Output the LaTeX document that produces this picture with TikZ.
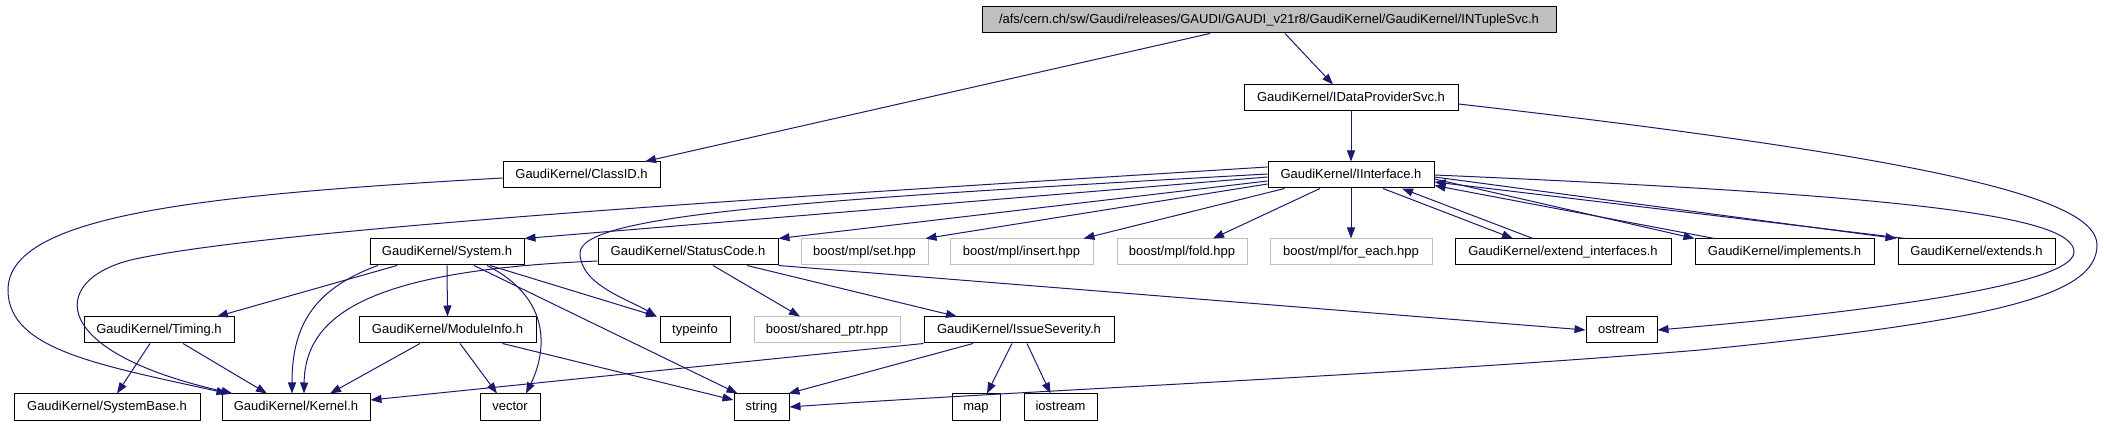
\documentclass[tikz,border=0pt]{standalone}
\usepackage{fontspec}
\setmainfont{Liberation Sans}
\usetikzlibrary{arrows.meta}
\definecolor{edgeblue}{HTML}{191970}
\definecolor{boxgray}{HTML}{BFBFBF}
\begin{document}
\begin{tikzpicture}[x=1pt,y=-1pt,line cap=butt,line join=miter,>={Stealth[length=11pt,width=8pt,inset=0pt]},font=\fontsize{13}{15}\selectfont]
	\tikzset{hbox/.style={draw=black,line width=1pt,fill=white,inner sep=0pt,minimum height=26,text height=9.5pt,text depth=2.6pt},
		extbox/.style={hbox,draw=boxgray},
		topbox/.style={hbox,fill=boxgray},
		dep/.style={->,draw=edgeblue,line width=1pt}}
	\useasboundingbox (0,0) rectangle (2104,427);
	% rows of headers
	\node[topbox,minimum width=574] (ntuple) at (1269,20) {/afs/cern.ch/sw/Gaudi/releases/GAUDI/GAUDI\_v21r8/GaudiKernel/GaudiKernel/INTupleSvc.h};
	\node[hbox,minimum width=214] (dataprov) at (1351,98) {GaudiKernel/IDataProviderSvc.h};
	\node[hbox,minimum width=157] (classid) at (581.5,175) {GaudiKernel/ClassID.h};
	\node[hbox,minimum width=166] (iface) at (1351,175) {GaudiKernel/IInterface.h};
	\node[hbox,minimum width=154] (system) at (447,252) {GaudiKernel/System.h};
	\node[hbox,minimum width=180] (status) at (688,252) {GaudiKernel/StatusCode.h};
	\node[extbox,minimum width=127] (set) at (864.5,252) {boost/mpl/set.hpp};
	\node[extbox,minimum width=143] (insert) at (1021.5,252) {boost/mpl/insert.hpp};
	\node[extbox,minimum width=130] (fold) at (1182,252) {boost/mpl/fold.hpp};
	\node[extbox,minimum width=162] (foreach) at (1351,252) {boost/mpl/for\_each.hpp};
	\node[hbox,minimum width=216] (extif) at (1563,252) {GaudiKernel/extend\_interfaces.h};
	\node[hbox,minimum width=179] (impl) at (1784.5,252) {GaudiKernel/implements.h};
	\node[hbox,minimum width=157] (extends) at (1976.5,252) {GaudiKernel/extends.h};
	\node[hbox,minimum width=150] (timing) at (159,330) {GaudiKernel/Timing.h};
	\node[hbox,minimum width=177] (modinfo) at (447.5,330) {GaudiKernel/ModuleInfo.h};
	\node[hbox,minimum width=70] (typeinfo) at (695,330) {typeinfo};
	\node[extbox,minimum width=146] (shared) at (827,330) {boost/shared\_ptr.hpp};
	\node[hbox,minimum width=190] (issue) at (1019,330) {GaudiKernel/IssueSeverity.h};
	\node[hbox,minimum width=71] (ostream) at (1621.5,330) {ostream};
	\node[hbox,minimum width=186] (sysbase) at (107,407) {GaudiKernel/SystemBase.h};
	\node[hbox,minimum width=148] (kernel) at (296,407) {GaudiKernel/Kernel.h};
	\node[hbox,minimum width=60] (vector) at (510,407) {vector};
	\node[hbox,minimum width=55] (string) at (761.5,407) {string};
	\node[hbox,minimum width=48] (map) at (976,407) {map};
	\node[hbox,minimum width=73] (iostream) at (1060.5,407) {iostream};
	% straight includes, bottom to top
	\foreach \a/\sa/\b/\sb in {ntuple/-59/classid/63.5,ntuple/16/dataprov/-18,dataprov/0/iface/0,
			iface/-31/fold/31,iface/0/foreach/0,iface/32/extif/-50,
			system/-50/timing/58,system/0/modinfo/0,system/43/typeinfo/-38,system/27/string/-24,
			status/25/shared/-27,status/59/issue/-62,timing/-9/sysbase/10,timing/24/kernel/-29,
			modinfo/-27.5/kernel/34,modinfo/12.5/vector/-13,
			issue/-46/string/27,issue/-7/map/11,issue/8/iostream/-10}{
			\draw[dep] ([xshift=\sa]\a.south)--([xshift=\sb]\b.north);}
	\draw[dep] ([yshift=-2]iface.west)--(system.north east);
	\draw[dep] ([yshift=-6]iface.west)--(status.north east);
	\draw[dep] ([yshift=-9]iface.west)--([xshift=-3]set.north east);
	\draw[dep] ([xshift=17]iface.south west)--([xshift=-10]insert.north east);
	\draw[dep] ([yshift=-4]iface.east)--(impl.north west);
	\draw[dep] ([yshift=-2]iface.east)--([xshift=-1]extends.north west);
	\draw[dep] ([xshift=-30]extif.north)--([xshift=51]iface.south);
	\draw[dep] ([xshift=-70]impl.north)--([yshift=3]iface.south east);
	\draw[dep] ([xshift=8]extends.north west)--([yshift=-7]iface.east);
	\draw[dep] (status.south east)--(ostream.west);
	\draw[dep] (issue.south west)--([yshift=7]kernel.east);
	\draw[dep] ([xshift=55]modinfo.south)--([yshift=7]string.west);
	% long curved includes
	\draw[dep] (iface.east) .. controls (1900,195) and (2074,215) .. (2074,252) .. controls (2074,290) and (1800,318) .. (ostream.east);
	\draw[dep] ([yshift=-6]dataprov.east) .. controls (1950,160) and (2097,200) .. (2097,245) .. controls (2097,295) and (2000,320) .. (1700,350) .. controls (1400,375) and (1000,392) .. (string.east);
	\draw[dep] ([yshift=-3]classid.west) .. controls (200,195) and (8,215) .. (8,290) .. controls (8,350) and (100,365) .. ([xshift=6]kernel.north west);
	\draw[dep] ([yshift=8]iface.west) .. controls (900,190) and (300,225) .. (140,258) .. controls (50,275) and (40,350) .. ([xshift=11]kernel.north west);
	\draw[dep] ([yshift=1]iface.west) .. controls (800,200) and (580,215) .. (580,253) .. controls (580,285) and (630,300) .. ([xshift=-3]typeinfo.north west);
	\draw[dep] ([xshift=-69]system.south) .. controls (310,290) and (292,330) .. ([xshift=-4]kernel.north);
	\draw[dep] ([xshift=40]system.south) .. controls (555,300) and (545,355) .. ([xshift=16]vector.north);
	\draw[dep] ([yshift=-9]status.west) .. controls (380,270) and (305,310) .. ([xshift=8]kernel.north);
\end{tikzpicture}
\end{document}
